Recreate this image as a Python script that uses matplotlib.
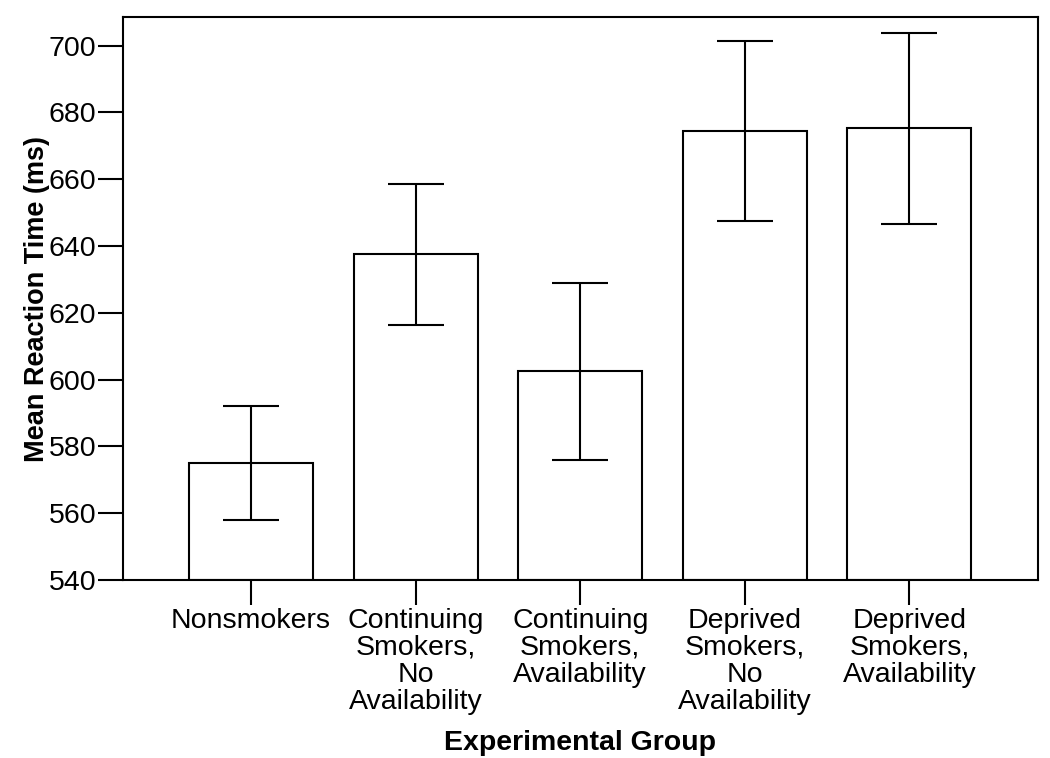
import matplotlib
matplotlib.use("Agg")
import matplotlib.pyplot as plt

groups = ["Nonsmokers",
          "Continuing\nSmokers,\nNo\nAvailability",
          "Continuing\nSmokers,\nAvailability",
          "Deprived\nSmokers,\nNo\nAvailability",
          "Deprived\nSmokers,\nAvailability"]
means = [575.1, 637.7, 602.6, 674.4, 675.4]
err_low = [558.1, 616.4, 576.0, 647.4, 646.6]
err_high = [592.1, 658.6, 629.0, 701.5, 703.7]

plt.rcParams['font.family'] = ['Liberation Sans', 'DejaVu Sans']

fig = plt.figure(figsize=(10.5, 7.58), dpi=100)
ax = fig.add_axes([0.1169, 0.2348, 0.8714, 0.7428])

x = list(range(len(groups)))
yerr = [[m - lo for m, lo in zip(means, err_low)],
        [hi - m for m, hi in zip(means, err_high)]]

ax.bar(x, [m - 540 for m in means], bottom=540, width=0.754,
       facecolor='white', edgecolor='black', linewidth=1.5, zorder=2)
ax.errorbar(x, means, yerr=yerr, fmt='none', ecolor='black',
            elinewidth=1.5, capsize=20, capthick=1.5, zorder=3)

ax.set_xlim(-0.78, 4.78)
ax.set_ylim(540, 708.6)
ax.set_yticks(range(540, 701, 20))
ax.set_xticks(x)
ax.set_xticklabels(groups, linespacing=1.05)

for s in ax.spines.values():
    s.set_linewidth(1.5)

ax.tick_params(axis='both', direction='out', length=18, width=1.5,
               labelsize=20.5, pad=1)
ax.tick_params(axis='x', pad=2)

ax.set_ylabel("Mean Reaction Time (ms)", fontsize=19.5, fontweight='bold', labelpad=-1)
ax.set_xlabel("Experimental Group", fontsize=20.5, fontweight='bold', labelpad=11)

fig.savefig("out.png", dpi=100)
